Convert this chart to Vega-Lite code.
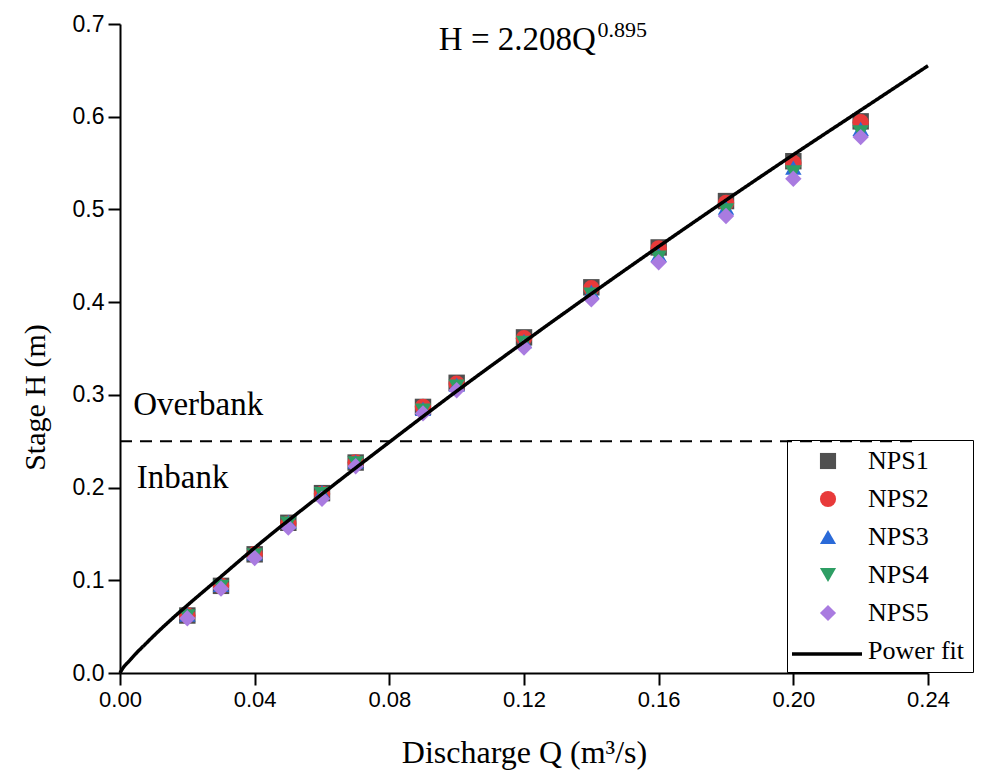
{
  "$schema": "https://vega.github.io/schema/vega-lite/v6.json",
  "width": 808,
  "height": 649,
  "autosize": {"type": "none"},
  "padding": {"left": 120, "top": 24, "right": 60, "bottom": 109},
  "background": "white",
  "view": {"stroke": null},
  "config": {
    "axis": {
      "domainColor": "black", "domainWidth": 2, "tickColor": "black", "tickWidth": 2, "tickSize": 12,
      "labelFont": "Liberation Sans", "labelFontSize": 22, "labelColor": "black", "labelPadding": 4, "labelFlush": false,
      "titleFont": "Liberation Serif", "titleFontSize": 32, "titleFontWeight": "normal", "titleColor": "black",
      "grid": false
    },
    "legend": {
      "labelFont": "Liberation Serif", "labelFontSize": 26, "labelColor": "black"
    }
  },
  "datasets": {
    "obs": [
      {"Q": 0.02, "H": 0.062, "Series": "NPS1"}, {"Q": 0.03, "H": 0.094, "Series": "NPS1"}, {"Q": 0.04, "H": 0.128, "Series": "NPS1"}, {"Q": 0.05, "H": 0.162, "Series": "NPS1"}, {"Q": 0.06, "H": 0.194, "Series": "NPS1"}, {"Q": 0.07, "H": 0.227, "Series": "NPS1"}, {"Q": 0.09, "H": 0.287, "Series": "NPS1"}, {"Q": 0.10, "H": 0.313, "Series": "NPS1"}, {"Q": 0.12, "H": 0.362, "Series": "NPS1"}, {"Q": 0.14, "H": 0.416, "Series": "NPS1"}, {"Q": 0.16, "H": 0.459, "Series": "NPS1"}, {"Q": 0.18, "H": 0.509, "Series": "NPS1"}, {"Q": 0.20, "H": 0.552, "Series": "NPS1"}, {"Q": 0.22, "H": 0.595, "Series": "NPS1"},
      {"Q": 0.02, "H": 0.062, "Series": "NPS2"}, {"Q": 0.03, "H": 0.094, "Series": "NPS2"}, {"Q": 0.04, "H": 0.128, "Series": "NPS2"}, {"Q": 0.05, "H": 0.161, "Series": "NPS2"}, {"Q": 0.06, "H": 0.193, "Series": "NPS2"}, {"Q": 0.07, "H": 0.227, "Series": "NPS2"}, {"Q": 0.09, "H": 0.287, "Series": "NPS2"}, {"Q": 0.10, "H": 0.312, "Series": "NPS2"}, {"Q": 0.12, "H": 0.361, "Series": "NPS2"}, {"Q": 0.14, "H": 0.415, "Series": "NPS2"}, {"Q": 0.16, "H": 0.458, "Series": "NPS2"}, {"Q": 0.18, "H": 0.507, "Series": "NPS2"}, {"Q": 0.20, "H": 0.550, "Series": "NPS2"}, {"Q": 0.22, "H": 0.594, "Series": "NPS2"},
      {"Q": 0.02, "H": 0.063, "Series": "NPS3"}, {"Q": 0.03, "H": 0.095, "Series": "NPS3"}, {"Q": 0.04, "H": 0.129, "Series": "NPS3"}, {"Q": 0.05, "H": 0.163, "Series": "NPS3"}, {"Q": 0.06, "H": 0.195, "Series": "NPS3"}, {"Q": 0.07, "H": 0.228, "Series": "NPS3"}, {"Q": 0.09, "H": 0.285, "Series": "NPS3"}, {"Q": 0.10, "H": 0.311, "Series": "NPS3"}, {"Q": 0.12, "H": 0.358, "Series": "NPS3"}, {"Q": 0.14, "H": 0.411, "Series": "NPS3"}, {"Q": 0.16, "H": 0.451, "Series": "NPS3"}, {"Q": 0.18, "H": 0.502, "Series": "NPS3"}, {"Q": 0.20, "H": 0.545, "Series": "NPS3"}, {"Q": 0.22, "H": 0.587, "Series": "NPS3"},
      {"Q": 0.02, "H": 0.061, "Series": "NPS4"}, {"Q": 0.03, "H": 0.093, "Series": "NPS4"}, {"Q": 0.04, "H": 0.127, "Series": "NPS4"}, {"Q": 0.05, "H": 0.161, "Series": "NPS4"}, {"Q": 0.06, "H": 0.193, "Series": "NPS4"}, {"Q": 0.07, "H": 0.226, "Series": "NPS4"}, {"Q": 0.09, "H": 0.283, "Series": "NPS4"}, {"Q": 0.10, "H": 0.309, "Series": "NPS4"}, {"Q": 0.12, "H": 0.356, "Series": "NPS4"}, {"Q": 0.14, "H": 0.408, "Series": "NPS4"}, {"Q": 0.16, "H": 0.448, "Series": "NPS4"}, {"Q": 0.18, "H": 0.499, "Series": "NPS4"}, {"Q": 0.20, "H": 0.540, "Series": "NPS4"}, {"Q": 0.22, "H": 0.583, "Series": "NPS4"},
      {"Q": 0.02, "H": 0.059, "Series": "NPS5"}, {"Q": 0.03, "H": 0.091, "Series": "NPS5"}, {"Q": 0.04, "H": 0.124, "Series": "NPS5"}, {"Q": 0.05, "H": 0.157, "Series": "NPS5"}, {"Q": 0.06, "H": 0.188, "Series": "NPS5"}, {"Q": 0.07, "H": 0.223, "Series": "NPS5"}, {"Q": 0.09, "H": 0.280, "Series": "NPS5"}, {"Q": 0.10, "H": 0.305, "Series": "NPS5"}, {"Q": 0.12, "H": 0.351, "Series": "NPS5"}, {"Q": 0.14, "H": 0.403, "Series": "NPS5"}, {"Q": 0.16, "H": 0.443, "Series": "NPS5"}, {"Q": 0.18, "H": 0.493, "Series": "NPS5"}, {"Q": 0.20, "H": 0.533, "Series": "NPS5"}, {"Q": 0.22, "H": 0.578, "Series": "NPS5"}
    ],
    "fit": [
      {"Q": 0, "H": 0}, {"Q": 0.001, "H": 0.006}, {"Q": 0.0025, "H": 0.012}, {"Q": 0.005, "H": 0.022}, {"Q": 0.0075, "H": 0.031}, {"Q": 0.01, "H": 0.040}, {"Q": 0.015, "H": 0.057},
      {"Q": 0.02, "H": 0.073}, {"Q": 0.03, "H": 0.104}, {"Q": 0.04, "H": 0.135}, {"Q": 0.06, "H": 0.193}, {"Q": 0.08, "H": 0.249},
      {"Q": 0.10, "H": 0.304}, {"Q": 0.12, "H": 0.357}, {"Q": 0.14, "H": 0.409}, {"Q": 0.16, "H": 0.460}, {"Q": 0.18, "H": 0.510},
      {"Q": 0.20, "H": 0.559}, {"Q": 0.22, "H": 0.607}, {"Q": 0.24, "H": 0.655}
    ],
    "bank": [{"Q0": 0, "Q1": 0.236, "H": 0.25}],
    "notes": [{"Q": 0.0039, "H": 0.278, "label": "Overbank"}, {"Q": 0.005, "H": 0.2, "label": "Inbank"}],
    "formula": [{"Q": 0.0947, "H": 0.672, "label": "H = 2.208Q"}],
    "sup": [{"Q": 0.1418, "H": 0.686, "label": "0.895"}]
  },
  "layer": [
    {
      "data": {"name": "bank"},
      "mark": {"type": "rule", "strokeDash": [12, 8], "strokeWidth": 2, "color": "black"},
      "encoding": {
        "x": {"field": "Q0", "type": "quantitative", "scale": {"domain": [0, 0.24], "nice": false},
              "axis": {"title": "Discharge Q (m³/s)", "values": [0, 0.04, 0.08, 0.12, 0.16, 0.2, 0.24], "format": ".2f", "titlePadding": 27}},
        "x2": {"field": "Q1"},
        "y": {"field": "H", "type": "quantitative", "scale": {"domain": [0, 0.7], "nice": false},
              "axis": {"title": "Stage H (m)", "values": [0, 0.1, 0.2, 0.3, 0.4, 0.5, 0.6, 0.7], "format": ".1f", "titlePadding": 22, "labelFontSize": 23, "titleFontSize": 30, "titleY": 373}}
      }
    },
    {
      "data": {"name": "obs"},
      "mark": {"type": "point", "filled": true, "opacity": 1, "size": 270},
      "encoding": {
        "x": {"field": "Q", "type": "quantitative"},
        "y": {"field": "H", "type": "quantitative"},
        "color": {"field": "Series", "type": "nominal",
                  "scale": {"domain": ["NPS1", "NPS2", "NPS3", "NPS4", "NPS5", "Power fit"], "range": ["#505050", "#e83a3a", "#2a6ad8", "#2e9e64", "#a97be0", "black"]},
                  "legend": {"title": null, "orient": "none", "legendX": 667, "legendY": 416, "strokeColor": "black", "padding": 8,
                             "symbolSize": 260, "rowPadding": 12, "labelOffset": 27, "symbolOffset": 20}},
        "shape": {"field": "Series", "type": "nominal",
                  "scale": {"domain": ["NPS1", "NPS2", "NPS3", "NPS4", "NPS5", "Power fit"], "range": ["square", "circle", "triangle-up", "triangle-down", "diamond", "stroke"]},
                  "legend": {"title": null, "orient": "none", "legendX": 667, "legendY": 416, "strokeColor": "black", "padding": 8,
                             "symbolSize": 260, "rowPadding": 12, "labelOffset": 27, "symbolOffset": 20}}
      }
    },
    {
      "data": {"name": "fit"},
      "mark": {"type": "line", "color": "black", "strokeWidth": 3.5, "interpolate": "monotone"},
      "encoding": {
        "x": {"field": "Q", "type": "quantitative"},
        "y": {"field": "H", "type": "quantitative"},
        "strokeDash": {"datum": "Power fit", "type": "nominal", "scale": {"domain": ["Power fit"], "range": [[1, 0]]},
                       "legend": {"title": null, "orient": "none", "legendX": 670, "legendY": 593, "strokeColor": "transparent", "padding": 0,
                                  "labelExpr": "''", "symbolSize": 4900, "symbolStrokeWidth": 3.5, "symbolStrokeColor": "black", "symbolOffset": 0, "labelOffset": 0}}
      }
    },
    {
      "data": {"name": "notes"},
      "mark": {"type": "text", "font": "Liberation Serif", "fontSize": 33, "align": "left", "baseline": "alphabetic", "color": "black"},
      "encoding": {"x": {"field": "Q", "type": "quantitative"}, "y": {"field": "H", "type": "quantitative"}, "text": {"field": "label"}}
    },
    {
      "data": {"name": "formula"},
      "mark": {"type": "text", "font": "Liberation Serif", "fontSize": 33, "align": "left", "baseline": "alphabetic", "color": "black"},
      "encoding": {"x": {"field": "Q", "type": "quantitative"}, "y": {"field": "H", "type": "quantitative"}, "text": {"field": "label"}}
    },
    {
      "data": {"name": "sup"},
      "mark": {"type": "text", "font": "Liberation Serif", "fontSize": 22, "align": "left", "baseline": "alphabetic", "color": "black"},
      "encoding": {"x": {"field": "Q", "type": "quantitative"}, "y": {"field": "H", "type": "quantitative"}, "text": {"field": "label"}}
    }
  ]
}
